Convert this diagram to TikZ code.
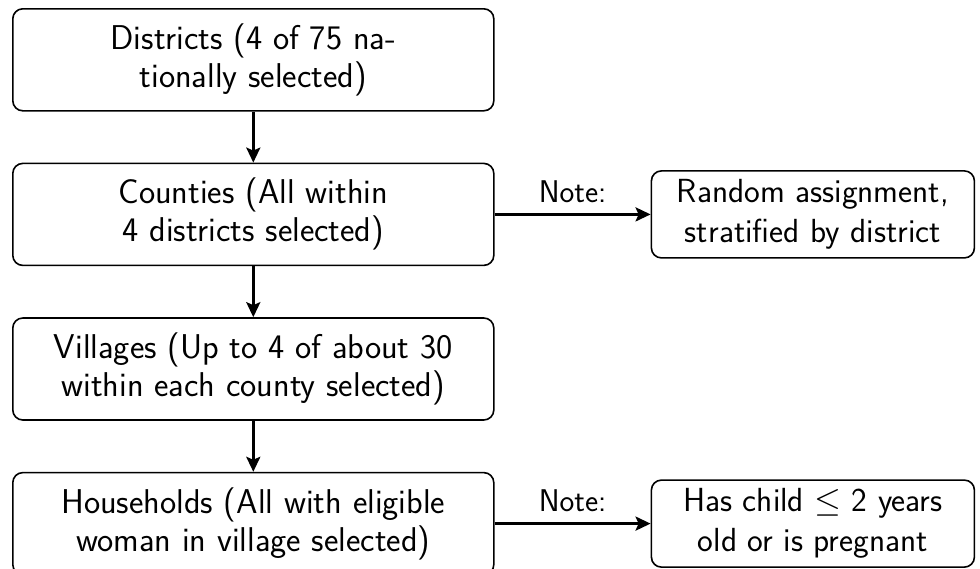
\documentclass[tikz,border=0pt]{standalone}
\usepackage{fontspec}
\usetikzlibrary{positioning, arrows.meta}
\begin{document}
\begin{tikzpicture}[
		stage/.style={draw, rounded corners=5pt, line width=0.8pt, minimum width=240.5pt, minimum height=51pt, align=center, font=\sffamily\fontsize{17.2}{19}\selectfont},
		remark/.style={draw, rounded corners=5pt, line width=0.8pt, minimum width=161.5pt, minimum height=43.5pt, align=center, font=\sffamily\fontsize{16.7}{20}\selectfont},
		flow/.style={-{Stealth[length=7.5pt, width=7pt, inset=1.5pt]}, line width=1.4pt},
		note/.style={font=\sffamily\fontsize{15.7}{18}\selectfont},
		node distance=25.5pt
	]
	\useasboundingbox (0,0) rectangle (490pt,-284pt);
	\node[stage, anchor=north west] (districts) at (6pt,-4pt) {Districts (4 of 75 na-\\tionally selected)};
	\node[stage, below=of districts] (counties) {Counties (All within\\4 districts selected)};
	\node[stage, below=of counties] (villages) {Villages (Up to 4 of about 30\\within each county selected)};
	\node[stage, below=of villages] (households) {Households (All with eligible\\woman in village selected)};
	\node[remark, right=78pt of counties] (assign) {Random assignment,\\stratified by district};
	\node[remark, right=78pt of households] (eligible) {Has child $\leq$ 2 years\\old or is pregnant};
	\draw[flow] (districts) -- (counties);
	\draw[flow] (counties) -- (villages);
	\draw[flow] (villages) -- (households);
	\draw[flow] (counties) -- node[note, above=2pt] (noteA) {Note:} (assign);
	\draw[flow] (households) -- node[note, above=2pt] (noteB) {Note:} (eligible);
\end{tikzpicture}
\end{document}
